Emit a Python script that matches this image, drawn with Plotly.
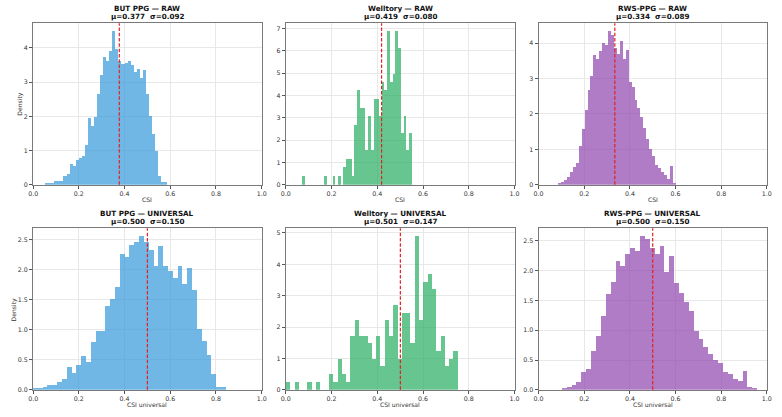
import plotly.graph_objects as go

W, H = 782, 417

titles = ["BUT PPG — RAW", "Welltory — RAW", "RWS-PPG — RAW",
          "BUT PPG — UNIVERSAL", "Welltory — UNIVERSAL", "RWS-PPG — UNIVERSAL"]
means = [0.377, 0.419, 0.334, 0.500, 0.501, 0.500]
stds = [0.092, 0.080, 0.089, 0.150, 0.147, 0.150]
xlabels = ["CSI", "CSI", "CSI", "CSI universal", "CSI universal", "CSI universal"]
colors = ["#3498db", "#27ae60", "#8e44ad", "#3498db", "#27ae60", "#8e44ad"]

# histogram bins (40 bins each): first edge and bin width
bin_starts = [0.0533, 0.0717, 0.0837, 0.0, 0.0, 0.100]
bin_widths = [0.013355, 0.011945, 0.01288, 0.0211, 0.01875, 0.0214]

but_raw = [0.05, 0.02, 0.05, 0.10, 0.10, 0.10, 0.25, 0.30, 0.60, 0.53,
           0.72, 0.77, 0.84, 1.17, 1.95, 1.72, 1.97, 2.65, 3.20, 3.73,
           3.62, 3.92, 4.50, 3.95, 3.60, 3.53, 3.55, 3.62, 3.50, 3.30,
           3.38, 3.13, 3.35, 2.65, 2.00, 1.48, 0.98, 0.25, 0.07, 0.07]
welltory_raw = [0.38, 0, 0, 0, 0, 0, 0, 0, 0.38, 0,
                0, 0.38, 0, 0.38, 0, 0.77, 1.15, 1.15, 0.38, 2.68,
                4.22, 3.45, 3.45, 1.53, 3.07, 1.53, 3.83, 3.83, 3.07, 4.60,
                4.22, 6.90, 4.60, 4.98, 6.90, 6.13, 2.30, 3.07, 1.53, 2.30]
rws_raw = [0.04, 0.07, 0.12, 0.22, 0.36, 0.50, 0.60, 1.10, 1.57, 2.10,
           2.68, 3.07, 3.65, 3.55, 3.78, 4.00, 3.95, 4.35, 4.22, 3.85,
           3.70, 4.05, 3.55, 3.80, 2.90, 2.75, 2.40, 2.15, 1.90, 1.60,
           1.30, 1.00, 0.80, 0.55, 0.48, 0.36, 0.27, 0.15, 0.53, 0.05]
but_uni = [0.03, 0.03, 0.05, 0.08, 0.08, 0.13, 0.17, 0.37, 0.28, 0.41,
           0.55, 0.45, 0.79, 0.98, 0.97, 1.39, 1.51, 1.71, 2.26, 2.21,
           2.40, 2.45, 2.56, 2.46, 2.33, 2.05, 2.39, 2.06, 1.98, 1.86,
           2.05, 1.76, 2.02, 1.65, 1.01, 0.80, 0.58, 0.26, 0.05, 0.05]
welltory_uni = [0.25, 0, 0.25, 0, 0, 0.25, 0, 0.25, 0, 0,
                0.49, 0.25, 0.98, 0.49, 0.25, 1.72, 2.21, 1.72, 1.72, 1.47,
                0.98, 1.72, 0.74, 2.21, 1.72, 2.70, 0.98, 2.45, 2.45, 1.47,
                4.90, 2.21, 3.43, 3.68, 3.19, 1.23, 1.72, 0.74, 0.98, 1.23]
rws_uni = [0.03, 0.045, 0.07, 0.12, 0.29, 0.35, 0.64, 0.89, 1.24, 1.61,
           1.81, 2.16, 2.08, 2.28, 2.37, 2.33, 2.58, 2.53, 2.37, 2.28,
           2.40, 1.97, 2.24, 1.78, 1.62, 1.46, 1.31, 0.99, 0.85, 0.72,
           0.59, 0.49, 0.44, 0.29, 0.26, 0.18, 0.15, 0.31, 0.045, 0.02]
series = [but_raw, welltory_raw, rws_raw, but_uni, welltory_uni, rws_uni]
ydticks = [1, 1, 1, 0.5, 1, 0.5]
yformats = ["d", "d", "d", ".1f", "d", ".1f"]

# layout in pixels
col_px = [(28.5, 260.0), (284.3, 516.2), (540.5, 771.7)]
row_px = [(23.3, 186.0), (230.0, 392.7)]

def px_x(x):
    return x / W

def px_y(y):
    return 1 - y / H

fig = go.Figure()
annotations = []
shapes = []
FONT = "DejaVu Sans"

for i in range(6):
    r, c = divmod(i, 3)
    n = i + 1
    xa = "x" if n == 1 else f"x{n}"
    ya = "y" if n == 1 else f"y{n}"
    vals = series[i]
    w = bin_widths[i]
    s = bin_starts[i]
    centers = [s + (k + 0.5) * w for k in range(len(vals))]
    fig.add_trace(go.Bar(x=centers, y=vals, width=[w] * len(vals),
                         marker=dict(color=colors[i], opacity=0.7, line=dict(width=0)),
                         xaxis=xa, yaxis=ya, showlegend=False, hoverinfo="skip"))
    x0, x1 = col_px[c]
    y0, y1 = row_px[r]
    ymax = max(vals) * 1.05
    axkey_x = "xaxis" if n == 1 else f"xaxis{n}"
    axkey_y = "yaxis" if n == 1 else f"yaxis{n}"
    fig.update_layout(**{
        axkey_x: dict(domain=[px_x(x0), px_x(x1)], anchor=ya, range=[0, 1],
                      tickmode="linear", tick0=0, dtick=0.2, tickformat=".1f",
                      showgrid=True, gridcolor="#e8e8e8", gridwidth=0.8,
                      showline=True, linecolor="#7a7a7a", linewidth=1, mirror=True,
                      ticks="outside", ticklen=3, tickcolor="#555", tickwidth=0.8,
                      tickfont=dict(size=6.3, color="#333", family=FONT),
                      zeroline=False),
        axkey_y: dict(domain=[px_y(y1), px_y(y0)], anchor=xa, range=[0, ymax],
                      tickmode="linear", tick0=0, dtick=ydticks[i], tickformat=yformats[i],
                      showgrid=True, gridcolor="#e8e8e8", gridwidth=0.8,
                      showline=True, linecolor="#7a7a7a", linewidth=1, mirror=True,
                      ticks="outside", ticklen=3, tickcolor="#555", tickwidth=0.8,
                      tickfont=dict(size=6.3, color="#333", family=FONT),
                      zeroline=False),
    })
    # mean line
    shapes.append(dict(type="line", xref=xa, yref=f"{ya} domain",
                       x0=means[i], x1=means[i], y0=0, y1=1,
                       line=dict(color="#e3211f", width=1.2, dash="3.5px,1.8px")))
    xc = px_x((x0 + x1) / 2)
    annotations.append(dict(text=f"<b>{titles[i]}</b>", x=xc, y=px_y(y0 - 15.0),
                            xref="paper", yref="paper", showarrow=False,
                            xanchor="center", yanchor="middle",
                            font=dict(size=7.2, color="#111", family=FONT)))
    annotations.append(dict(text=f"<b>μ={means[i]:.3f}  σ={stds[i]:.3f}</b>", x=xc,
                            y=px_y(y0 - 6.8),
                            xref="paper", yref="paper", showarrow=False,
                            xanchor="center", yanchor="middle",
                            font=dict(size=7.2, color="#111", family=FONT)))
    annotations.append(dict(text=xlabels[i], x=xc, y=px_y(y1 + 15.0),
                            xref="paper", yref="paper", showarrow=False,
                            xanchor="center", yanchor="middle",
                            font=dict(size=6.1, color="#333", family=FONT)))
    if c == 0:
        annotations.append(dict(text="Density", x=px_x(15.0 if r == 0 else 9.5),
                                y=px_y((y0 + y1) / 2),
                                xref="paper", yref="paper", showarrow=False,
                                textangle=-90, xanchor="center", yanchor="middle",
                                font=dict(size=6.1, color="#333", family=FONT)))

fig.update_layout(width=W, height=H, margin=dict(l=0, r=0, t=0, b=0),
                  paper_bgcolor="white", plot_bgcolor="white",
                  bargap=0, barmode="overlay",
                  shapes=shapes, annotations=annotations,
                  font=dict(family=FONT))

fig.write_html("out.html")
